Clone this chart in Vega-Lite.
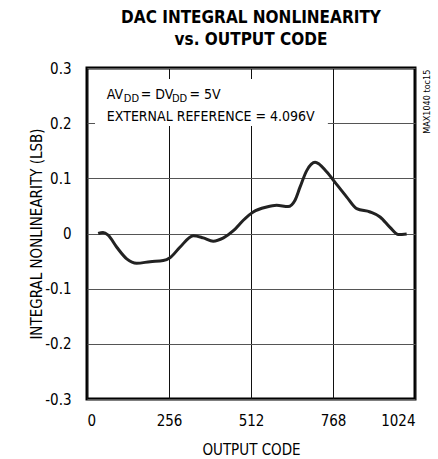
{
  "$schema": "https://vega.github.io/schema/vega-lite/v6.json",
  "width": 328,
  "height": 331,
  "autosize": {"type": "none"},
  "padding": {"left": 87, "top": 68, "right": 23, "bottom": 60},
  "background": "white",
  "title": {
    "text": ["DAC INTEGRAL NONLINEARITY", "vs. OUTPUT CODE"],
    "font": "DejaVu Sans Condensed, sans-serif",
    "fontWeight": "bold",
    "fontSize": 17,
    "lineHeight": 22,
    "color": "black",
    "anchor": "middle",
    "offset": 12
  },
  "config": {
    "view": {"stroke": "black", "strokeWidth": 3},
    "axis": {
      "labelFont": "DejaVu Sans Condensed, sans-serif",
      "titleFont": "DejaVu Sans Condensed, sans-serif",
      "labelFontSize": 15,
      "titleFontSize": 15,
      "titleFontWeight": "normal",
      "labelColor": "black",
      "titleColor": "black",
      "domain": false,
      "ticks": false,
      "gridOpacity": 1,
      "gridWidth": 1
    }
  },
  "datasets": {
    "inl": [
      {"code": 35, "inl": 0.0},
      {"code": 50, "inl": 0.002},
      {"code": 66, "inl": -0.003},
      {"code": 93, "inl": -0.025},
      {"code": 124, "inl": -0.046},
      {"code": 155, "inl": -0.054},
      {"code": 197, "inl": -0.051},
      {"code": 238, "inl": -0.049},
      {"code": 259, "inl": -0.044},
      {"code": 290, "inl": -0.025},
      {"code": 332, "inl": -0.004},
      {"code": 363, "inl": -0.008},
      {"code": 394, "inl": -0.014},
      {"code": 426, "inl": -0.008},
      {"code": 457, "inl": 0.005},
      {"code": 488, "inl": 0.024},
      {"code": 519, "inl": 0.039},
      {"code": 561, "inl": 0.048},
      {"code": 592, "inl": 0.051},
      {"code": 628, "inl": 0.049},
      {"code": 649, "inl": 0.06},
      {"code": 665, "inl": 0.084},
      {"code": 686, "inl": 0.114},
      {"code": 712, "inl": 0.129},
      {"code": 748, "inl": 0.112},
      {"code": 778, "inl": 0.09},
      {"code": 811, "inl": 0.066},
      {"code": 842, "inl": 0.045},
      {"code": 884, "inl": 0.039},
      {"code": 915, "inl": 0.03},
      {"code": 946, "inl": 0.011},
      {"code": 972, "inl": -0.002},
      {"code": 998, "inl": -0.001}
    ],
    "labels": [
      {"x": 62, "y": 0.2446, "t": "AV", "sub": false},
      {"x": 115, "y": 0.239, "t": "DD", "sub": true},
      {"x": 168, "y": 0.2446, "t": "= DV", "sub": false},
      {"x": 265, "y": 0.239, "t": "DD", "sub": true},
      {"x": 320, "y": 0.2446, "t": "= 5V", "sub": false},
      {"x": 62, "y": 0.2047, "t": "EXTERNAL REFERENCE = 4.096V", "sub": false}
    ],
    "box": [{"x": 25, "x2": 752, "y": 0.195, "y2": 0.28}],
    "tag": [{"x": 1061, "y": 0.297, "t": "MAX1040 toc15"}]
  },
  "layer": [
    {
      "data": {"name": "box"},
      "mark": {"type": "rect", "color": "white"},
      "encoding": {
        "x": {"field": "x", "type": "quantitative", "scale": {"domain": [0, 1024], "nice": false}, "axis": {"values": [0, 256, 512, 768, 1024], "format": "d", "title": "OUTPUT CODE", "gridColor": "#111", "labelPadding": 14, "titlePadding": 14}},
        "x2": {"field": "x2"},
        "y": {"field": "y", "type": "quantitative", "scale": {"domain": [-0.3, 0.3], "nice": false}, "axis": {"values": [-0.3, -0.2, -0.1, 0, 0.1, 0.2, 0.3], "title": "INTEGRAL NONLINEARITY (LSB)", "gridColor": "#555", "labelPadding": 16, "titlePadding": 0, "labelExpr": "abs(datum.value) < 1e-9 ? '0' : (datum.value < 0 ? '-' + format(-datum.value, '.1f') : format(datum.value, '.1f'))"}},
        "y2": {"field": "y2"}
      }
    },
    {
      "data": {"name": "inl"},
      "mark": {"type": "line", "interpolate": "monotone", "color": "#222", "strokeWidth": 3},
      "encoding": {
        "x": {"field": "code", "type": "quantitative"},
        "y": {"field": "inl", "type": "quantitative"}
      }
    },
    {
      "data": {"name": "labels"},
      "mark": {"type": "text", "align": "left", "baseline": "alphabetic", "font": "DejaVu Sans Condensed, sans-serif", "color": "black"},
      "encoding": {
        "x": {"field": "x", "type": "quantitative"},
        "y": {"field": "y", "type": "quantitative"},
        "text": {"field": "t"},
        "size": {"condition": {"test": "datum.sub", "value": 11}, "value": 14}
      }
    },
    {
      "data": {"name": "tag"},
      "mark": {"type": "text", "align": "right", "baseline": "middle", "angle": 270, "fontSize": 9, "font": "DejaVu Sans Condensed, sans-serif", "color": "black", "clip": false},
      "encoding": {
        "x": {"field": "x", "type": "quantitative"},
        "y": {"field": "y", "type": "quantitative"},
        "text": {"field": "t"}
      }
    }
  ]
}
